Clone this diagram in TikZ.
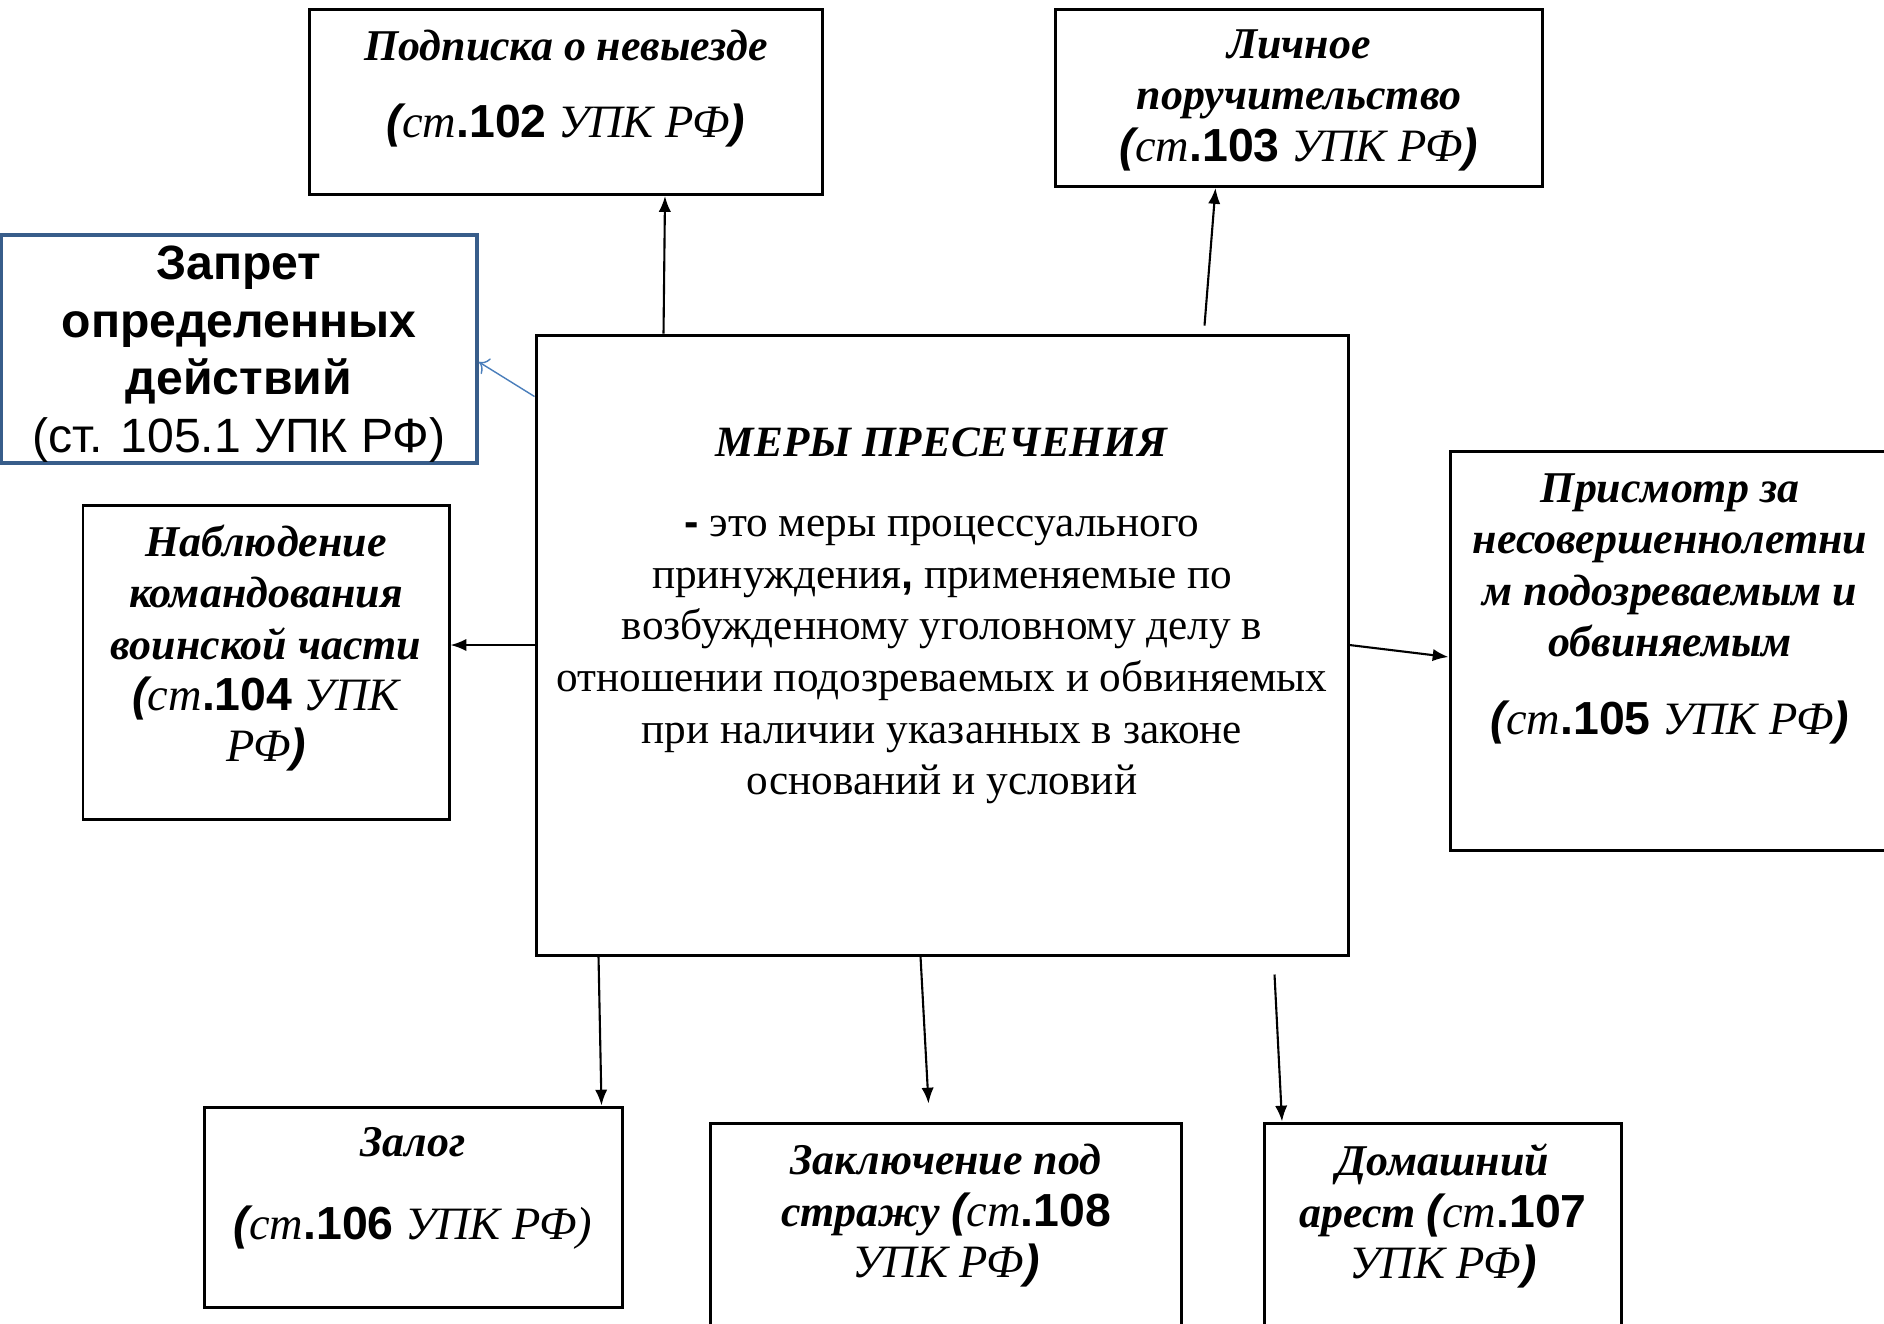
\documentclass[tikz,border=0pt]{standalone}
\usepackage{fontspec}
\setmainfont{Liberation Serif}
\setsansfont{Liberation Sans}
\usetikzlibrary{positioning,arrows.meta}

\definecolor{boxblue}{RGB}{56,93,138}
\definecolor{arrblue}{RGB}{74,126,187}

\newcommand{\lp}{{\sffamily\bfseries\itshape(}}
\newcommand{\rp}{{\sffamily\bfseries\itshape)}}
\newcommand{\stnum}[1]{{\mdseries ст}{\sffamily\bfseries\upshape.#1}}
\newcommand{\reg}[1]{{\mdseries #1}}
\newcommand{\artsize}{\fontsize{13.2}{14.6}\selectfont}

\begin{document}
\begin{tikzpicture}[x=0.1mm, y=-0.1mm,
    box/.style = {draw, line width=0.85pt, inner sep=0pt},
    lbl/.style = {align=center, inner sep=0pt,
                  font=\fontsize{12.5}{14.6}\selectfont\bfseries\itshape},
    arr/.style = {-{Latex[length=4.5pt,width=3.5pt]}, line width=0.6pt}]
    \useasboundingbox (0,0) rectangle (1884,1323);

    % center
    \node[box, minimum width=8.12cm, minimum height=6.2cm] (mery) at (942,645) {};
    \node[below=0.94cm of mery.north, align=center, inner sep=0pt,
          font=\fontsize{12.3}{14.7}\selectfont] (mery-t)
      {\textbf{\textit{МЕРЫ ПРЕСЕЧЕНИЯ}}\\[8pt]
       {\sffamily\bfseries -} это меры процессуального\\
       принуждения{\sffamily\bfseries ,} применяемые по\\
       возбужденному уголовному делу в\\
       отношении подозреваемых и обвиняемых\\
       при наличии указанных в законе\\
       оснований и условий};

    % top row
    \node[box, minimum width=5.13cm, minimum height=1.85cm] (podpiska) at (566,102) {};
    \node[lbl, below=0.21cm of podpiska.north] (podpiska-t)
      {Подписка о невыезде\\[7.5pt]{\artsize\lp\stnum{102} \reg{УПК РФ}\rp}};

    \node[box, minimum width=4.87cm, minimum height=1.77cm] (lichnoe) at (1299,98) {};
    \node[lbl, below=0.21cm of lichnoe.north] (lichnoe-t)
      {Личное\\поручительство\\{\artsize\lp\stnum{103} \reg{УПК РФ}\rp}};

    % left side
    \node[box, draw=boxblue, line width=1.1pt, minimum width=4.76cm, minimum height=2.28cm] (zapret) at (239,349) {};
    \node[below=0.12cm of zapret.north, align=center, inner sep=0pt,
          font=\fontsize{13.7}{16.4}\selectfont\sffamily] (zapret-t)
      {\textbf{Запрет}\\\textbf{определенных}\\\textbf{действий}\\(ст. 105.1 УПК РФ)};

    \node[box, minimum width=3.66cm, minimum height=3.14cm] (nabl) at (266,662) {};
    \node[lbl, below=0.21cm of nabl.north] (nabl-t)
      {Наблюдение\\командования\\воинской части\\
       {\artsize\lp\stnum{104} \reg{УПК}}\\{\artsize\reg{РФ}\rp}};

    % right side
    \node[box, minimum width=4.4cm, minimum height=3.99cm] (prismotr) at (1670,651) {};
    \node[lbl, below=0.23cm of prismotr.north] (prismotr-t)
      {Присмотр за\\несовершеннолетни\\м подозреваемым и\\обвиняемым\\[7.5pt]
       {\artsize\lp\stnum{105} \reg{УПК РФ}\rp}};

    % bottom row
    \node[box, minimum width=4.18cm, minimum height=2cm] (zalog) at (413,1207) {};
    \node[lbl, below=0.21cm of zalog.north] (zalog-t)
      {Залог\\[9pt]{\artsize\lp\stnum{106} \reg{УПК РФ)}}};

    \node[box, minimum width=4.71cm, minimum height=2.6cm] (zakl) at (946,1253) {};
    \node[lbl, below=0.22cm of zakl.north] (zakl-t)
      {Заключение под\\стражу {\artsize\lp\stnum{108}}\\{\artsize\reg{УПК РФ}\rp}};

    \node[box, minimum width=3.57cm, minimum height=2.6cm] (domash) at (1443,1253) {};
    \node[lbl, below=0.22cm of domash.north] (domash-t)
      {Домашний\\арест {\artsize\lp\stnum{107}}\\{\artsize\reg{УПК РФ}\rp}};

    % arrows
    \draw[arr] ([xshift=1.29cm]mery.north west) -- ([xshift=0.99cm]podpiska.south);
    \draw[arr] ([xshift=6.7cm,yshift=0.08cm]mery.north west) -- ([xshift=-0.835cm]lichnoe.south);
    \draw[->, draw=arrblue, line width=0.4pt] ([yshift=-0.63cm]mery.north west) -- ([yshift=-0.13cm]zapret.east);
    \draw[arr] (mery.west) -- (mery.west -| nabl.east);
    \draw[arr] (mery.east) -- ([yshift=-0.06cm]prismotr.west);
    \draw[arr] ([xshift=0.64cm]mery.south west) -- ([xshift=-0.22cm]zalog.north east);
    \draw[arr] ([xshift=3.86cm]mery.south west) -- ([xshift=-0.175cm,yshift=0.18cm]zakl.north);
    \draw[arr] ([xshift=7.4cm,yshift=-0.18cm]mery.south west) -- ([xshift=0.19cm]domash.north west);
\end{tikzpicture}
\end{document}
